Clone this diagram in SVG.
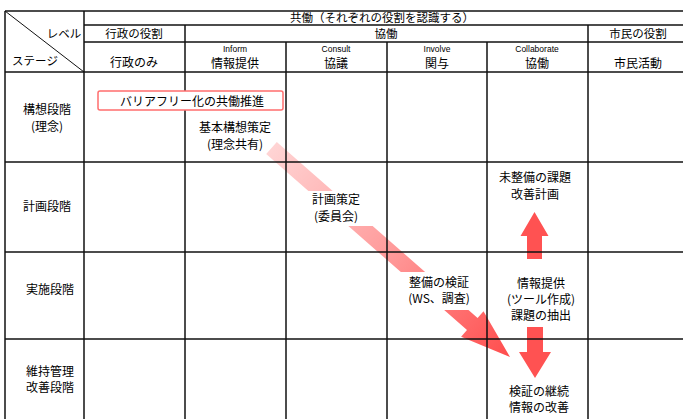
<svg xmlns="http://www.w3.org/2000/svg" width="683" height="419" viewBox="0 0 683 419">
<style>
.g{stroke:#111;stroke-width:1.5;fill:none}
.t{font-family:"Noto Sans CJK JP","Noto Sans",sans-serif;font-size:12px;fill:#000;text-anchor:middle;dominant-baseline:central}
.s{font-family:"Noto Sans CJK JP","Noto Sans",sans-serif;font-size:11.5px;fill:#000;text-anchor:middle;dominant-baseline:central}
.l{font-family:"Liberation Sans",Arial,sans-serif;font-size:8.5px;fill:#000;text-anchor:middle;dominant-baseline:central}
.va{fill:#FF5252}
</style>
<defs>
<linearGradient id="dg" gradientUnits="userSpaceOnUse" x1="271" y1="148" x2="510" y2="357">
<stop offset="0" stop-color="#FFD4D4"/>
<stop offset="0.5" stop-color="#FF9A9A"/>
<stop offset="1" stop-color="#FF4D4D"/>
</linearGradient>
</defs>
<rect width="683" height="419" fill="#fff"/>
<g id="connectors">
<polygon points="266.2,154 276.8,142 477.6,318 483.5,311.2 510,357 461.1,336.8 467,330" fill="url(#dg)"/>
<rect x="298" y="191" width="84" height="35" fill="#fff"/>
<rect x="392" y="272" width="92" height="38" fill="#fff"/>
<polygon class="va" points="527,259 527,236 520.5,236 534.5,212 548.5,236 542,236 542,259"/>
<polygon class="va" points="527,327 543,327 543,352 551,352 535,378 519,352 527,352"/>
</g>
<g id="grid">
<line class="g" x1="5" y1="11" x2="683" y2="11"/>
<line class="g" x1="84" y1="25" x2="683" y2="25"/>
<line class="g" x1="84" y1="42" x2="683" y2="42"/>
<line class="g" x1="5" y1="72" x2="683" y2="72"/>
<line class="g" x1="5" y1="162" x2="683" y2="162"/>
<line class="g" x1="5" y1="252" x2="683" y2="252"/>
<line class="g" x1="5" y1="339" x2="683" y2="339"/>
<line class="g" x1="5" y1="11" x2="5" y2="419"/>
<line class="g" x1="84" y1="11" x2="84" y2="419"/>
<line class="g" x1="185" y1="25" x2="185" y2="419"/>
<line class="g" x1="286" y1="42" x2="286" y2="419"/>
<line class="g" x1="387" y1="42" x2="387" y2="419"/>
<line class="g" x1="487" y1="42" x2="487" y2="419"/>
<line class="g" x1="588" y1="25" x2="588" y2="419"/>
<line x1="5" y1="11" x2="84" y2="72" stroke="#111" stroke-width="1"/>
</g>
<g id="corner">
<text class="s" x="64" y="33">レベル</text>
<text class="s" x="35" y="60">ステージ</text>
</g>
<g id="header-top"><text class="s" x="382" y="17">共働（それぞれの役割を認識する）</text></g>
<g id="header-gov"><text class="s" x="134" y="33">行政の役割</text></g>
<g id="header-kyodo"><text class="s" x="386" y="33">協働</text></g>
<g id="header-citizen"><text class="s" x="638" y="33">市民の役割</text></g>
<g id="col-gov"><text class="t" x="134" y="61">行政のみ</text></g>
<g id="col-inform"><text class="l" x="235" y="48.5">Inform</text><text class="t" x="235" y="62">情報提供</text></g>
<g id="col-consult"><text class="l" x="336" y="48.5">Consult</text><text class="t" x="336" y="62">協議</text></g>
<g id="col-involve"><text class="l" x="437" y="48.5">Involve</text><text class="t" x="437" y="62">関与</text></g>
<g id="col-collab"><text class="l" x="537" y="48.5">Collaborate</text><text class="t" x="537" y="62">協働</text></g>
<g id="col-citizen"><text class="t" x="638" y="62">市民活動</text></g>
<g id="row-kousou"><text class="t" x="47" y="108">構想段階</text><text class="t" x="47" y="125">(理念)</text></g>
<g id="row-keikaku"><text class="t" x="47" y="205">計画段階</text></g>
<g id="row-jisshi"><text class="t" x="50" y="288">実施段階</text></g>
<g id="row-iji"><text class="t" x="50" y="370">維持管理</text><text class="t" x="50" y="386">改善段階</text></g>
<g id="node-barrierfree">
<rect x="98" y="91" width="185" height="19" rx="2" fill="#fff" stroke="#FF6E6E" stroke-width="1.5"/>
<text class="t" x="192" y="100.5">バリアフリー化の共働推進</text>
</g>
<g id="node-kihon"><text class="t" x="235" y="126">基本構想策定</text><text class="t" x="235" y="143">(理念共有)</text></g>
<g id="node-keikaku"><text class="t" x="336" y="198">計画策定</text><text class="t" x="336" y="215">(委員会)</text></g>
<g id="node-seibi"><text class="t" x="439" y="281">整備の検証</text><text class="t" x="439" y="297">(WS、調査)</text></g>
<g id="node-miseibi"><text class="t" x="535" y="176">未整備の課題</text><text class="t" x="535" y="193">改善計画</text></g>
<g id="node-joho"><text class="t" x="541" y="282">情報提供</text><text class="t" x="541" y="298">(ツール作成)</text><text class="t" x="541" y="314">課題の抽出</text></g>
<g id="node-kensho"><text class="t" x="539" y="390">検証の継続</text><text class="t" x="539" y="406">情報の改善</text></g>
</svg>
